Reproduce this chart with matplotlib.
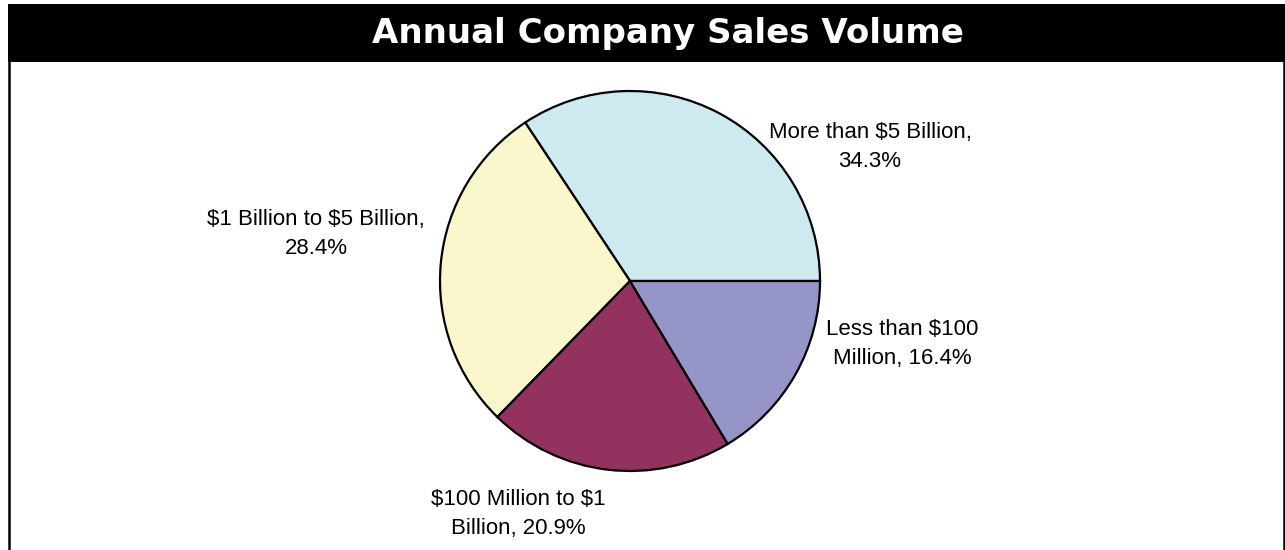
import matplotlib
matplotlib.use('Agg')
import matplotlib.pyplot as plt
from matplotlib.patches import Rectangle
from matplotlib.lines import Line2D

# Datos del grafico
categorias = ['More than $5 Billion', '$1 Billion to $5 Billion',
              '$100 Million to $1 Billion', 'Less than $100 Million']
porcentajes = [34.3, 28.4, 20.9, 16.4]
etiquetas = ['More than $5 Billion,\n34.3%',
             '$1 Billion to $5 Billion,\n28.4%',
             '$100 Million to $1\nBillion, 20.9%',
             'Less than $100\nMillion, 16.4%']
colores = ['#CDEAF0', '#FAF7CD', '#93325F', '#9595C8']
titulo = 'Annual Company Sales Volume'

W, H = 1285, 550

fig = plt.figure(figsize=(W / 100, H / 100), dpi=100)
ax = fig.add_axes([0, 0, 1, 1])

# Pastel en coordenadas de pixel
wedges, _ = ax.pie(porcentajes, colors=colores, startangle=0, counterclock=True,
                   center=(630, H - 281), radius=190,
                   wedgeprops=dict(edgecolor='black', linewidth=1.6))
ax.set_xlim(0, W)
ax.set_ylim(0, H)
ax.set_aspect('equal')
ax.axis('off')

# Etiquetas de cada rebanada
fuente = ['Liberation Sans Narrow', 'Liberation Sans', 'DejaVu Sans']
posiciones = [(870, H - 147), (316, H - 234), (518, H - 514), (902, H - 344)]
for txt, (x, y) in zip(etiquetas, posiciones):
    ax.text(x, y, txt, ha='center', va='center', fontsize=16,
            family=fuente, linespacing=1.5, color='black', parse_math=False)

# Barra del titulo
ax.add_patch(Rectangle((8, H - 62), W - 8, 58, facecolor='black',
                       edgecolor='none', zorder=5))
ax.text(668, H - 33, titulo, ha='center', va='center', color='white',
        fontsize=24.5, fontweight='heavy', family='DejaVu Sans', zorder=6)

# Bordes laterales
ax.add_line(Line2D([9, 9], [0, H - 62], color='black', linewidth=1.8))
ax.add_line(Line2D([W - 1.5, W - 1.5], [0, H - 62], color='black', linewidth=1.8))

fig.savefig('out.png', dpi=100)
